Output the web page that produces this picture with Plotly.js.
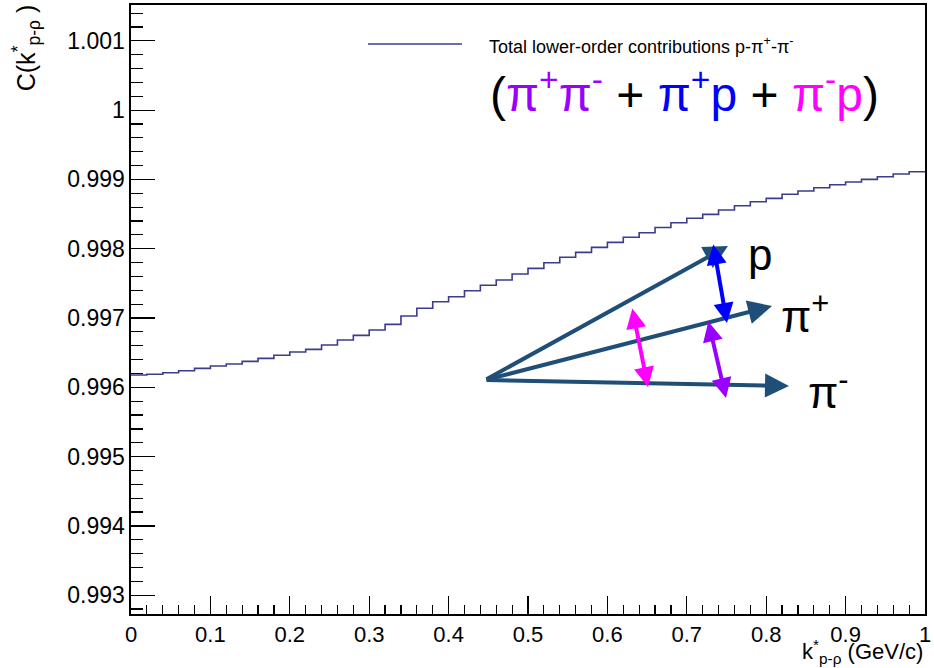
<!DOCTYPE html>
<html>
<head>
<meta charset="utf-8">
<script src="https://cdn.plot.ly/plotly-3.0.1.min.js"></script>
<style>html,body{margin:0;padding:0;background:#fff;}#chart{width:934px;height:668px;}</style>
</head>
<body>
<div id="chart"></div>
<script>
// ---- data ----
const binWidth = 0.02;
const seriesName = "Total lower-order contributions p-π<sup>+</sup>-π<sup>-</sup>";
const correlationValues = [
  0.996177, 0.996188, 0.996211, 0.996240, 0.996274, 0.996307, 0.996336, 0.996375, 0.996418, 0.996462,
  0.996509, 0.996548, 0.996610, 0.996683, 0.996750, 0.996827, 0.996909, 0.997029, 0.997140, 0.997235,
  0.997307, 0.997394, 0.997472, 0.997548, 0.997635, 0.997717, 0.997798, 0.997876, 0.997948, 0.998020,
  0.998092, 0.998165, 0.998231, 0.998306, 0.998375, 0.998439, 0.998496, 0.998558, 0.998621, 0.998678,
  0.998727, 0.998785, 0.998833, 0.998880, 0.998924, 0.998962, 0.999001, 0.999039, 0.999078, 0.999111
];
const xTickVals = [0, 0.1, 0.2, 0.3, 0.4, 0.5, 0.6, 0.7, 0.8, 0.9, 1];
const xTickText = ["0", "0.1", "0.2", "0.3", "0.4", "0.5", "0.6", "0.7", "0.8", "0.9", "1"];
const yTickVals = [0.993, 0.994, 0.995, 0.996, 0.997, 0.998, 0.999, 1.000, 1.001];
const yTickText = ["0.993", "0.994", "0.995", "0.996", "0.997", "0.998", "0.999", "1", "1.001"];
const xTitle = "k<sup>*</sup><sub>p-ρ</sub> (GeV/c)";
const yTitle = "C(k<sup>*</sup><sub>p-ρ</sub> )";

// histogram as step line: bin low edges + final upper edge
const stepX = correlationValues.map((v, i) => i * binWidth);
stepX.push(correlationValues.length * binWidth);
const stepY = correlationValues.slice();
stepY.push(correlationValues[correlationValues.length - 1]);

const lineColor = "#3c3c8e";
const arrowColor = "#1f4e79";
const FONT = "Liberation Sans, Arial, Helvetica, sans-serif";

const trace = {
  x: stepX, y: stepY, type: "scatter", mode: "lines",
  line: {shape: "hv", color: lineColor, width: 1.6},
  name: seriesName, showlegend: false, hoverinfo: "x+y"
};

function arrow(x, y, ax, ay, color, both) {
  const a = {x: x, y: y, ax: ax, ay: ay, xref: "x", yref: "y", axref: "x", ayref: "y",
    showarrow: true, text: "", arrowcolor: color, arrowwidth: 4, arrowhead: 2, arrowsize: 1.2,
    standoff: 0, startstandoff: 0};
  if (both) { a.arrowside = "end+start"; a.startarrowhead = 2; a.arrowsize = 1.0; a.startarrowsize = 1.0; }
  return a;
}

const layout = {
  width: 934, height: 668,
  margin: {l: 131, r: 9, t: 5, b: 54},
  paper_bgcolor: "#fff", plot_bgcolor: "#fff",
  font: {family: FONT, color: "#000"},
  showlegend: false,
  xaxis: {
    range: [0, 1], tickvals: xTickVals, ticktext: xTickText,
    ticks: "inside", ticklen: 18, tickwidth: 1.2, tickcolor: "#000",
    showline: true, linecolor: "#000", linewidth: 1.6, mirror: true,
    showgrid: false, zeroline: false,
    tickfont: {size: 22, family: FONT, color: "#000"},
    minor: {dtick: 0.02, ticks: "inside", ticklen: 9, tickcolor: "#000", tickwidth: 1.2, showgrid: false}
  },
  yaxis: {
    range: [0.992729, 1.001517], tickvals: yTickVals, ticktext: yTickText,
    ticks: "inside", ticklen: 24, tickwidth: 1.2, tickcolor: "#000",
    showline: true, linecolor: "#000", linewidth: 1.6, mirror: true,
    showgrid: false, zeroline: false,
    tickfont: {size: 23, family: FONT, color: "#000"},
    minor: {dtick: 0.0002, ticks: "inside", ticklen: 12, tickcolor: "#000", tickwidth: 1.2, showgrid: false}
  },
  shapes: [
    {type: "line", xref: "paper", yref: "paper", x0: 0.2985, x1: 0.4169, y0: 0.936, y1: 0.936,
     line: {color: lineColor, width: 1.6}}
  ],
  annotations: [
    {text: seriesName, xref: "paper", yref: "paper", x: 0.4484, y: 0.934, xanchor: "left", yanchor: "middle",
     showarrow: false, font: {size: 18, family: FONT, color: "#000"}},
    {text: '(<span style="color:#9a00ff">π<sup>+</sup>π<sup>-</sup></span> + <span style="color:#0000ff">π<sup>+</sup>p</span> + <span style="color:#ff00ff">π<sup>-</sup>p</span>)',
     xref: "paper", yref: "paper", x: 0.450, y: 0.858, xanchor: "left", yanchor: "middle",
     showarrow: false, font: {size: 48, family: FONT, color: "#000"}},
    {text: yTitle, xref: "paper", yref: "paper", x: -0.132, y: 1.004, xanchor: "center", yanchor: "top",
     textangle: -90, showarrow: false, font: {size: 25, family: FONT, color: "#000"}},
    {text: xTitle, xref: "paper", yref: "paper", x: 1, y: -0.062, xanchor: "right", yanchor: "middle",
     showarrow: false, font: {size: 22, family: FONT, color: "#000"}},
    // momentum vectors
    arrow(0.7519, 0.998039, 0.4458, 0.996105, arrowColor, false),
    arrow(0.8073, 0.997173, 0.4458, 0.996105, arrowColor, false),
    arrow(0.8287, 0.996019, 0.4458, 0.996105, arrowColor, false),
    // pair correlations
    arrow(0.7506, 0.996928, 0.7330, 0.998082, "#0000ff", true),
    arrow(0.6511, 0.996004, 0.6310, 0.997159, "#ff00ff", true),
    arrow(0.7494, 0.995846, 0.7267, 0.996971, "#9a00ff", true),
    {text: "p", xref: "paper", yref: "paper", x: 0.792, y: 0.590, xanchor: "center", yanchor: "middle",
     showarrow: false, font: {size: 44, family: FONT, color: "#000"}},
    {text: "π<sup>+</sup>", xref: "paper", yref: "paper", x: 0.849, y: 0.494, xanchor: "center", yanchor: "middle",
     showarrow: false, font: {size: 44, family: FONT, color: "#000"}},
    {text: "π<sup>-</sup>", xref: "paper", yref: "paper", x: 0.878, y: 0.368, xanchor: "center", yanchor: "middle",
     showarrow: false, font: {size: 44, family: FONT, color: "#000"}}
  ]
};

Plotly.newPlot("chart", [trace], layout, {displayModeBar: false, staticPlot: true});
</script>
</body>
</html>
